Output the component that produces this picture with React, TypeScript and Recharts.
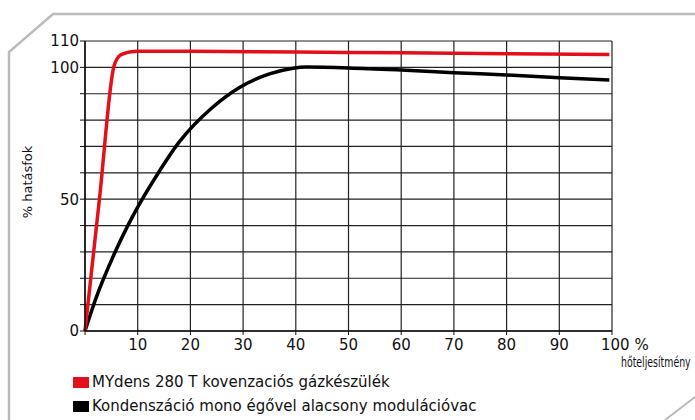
import React from 'react';
import { LineChart, Line, XAxis, YAxis, CartesianGrid } from 'recharts';

// red: MYdens 280 T (x = % heat load, y = % efficiency)
const redLoad = [0, 2.75, 5.5, 6.0, 6.6, 7.5, 8.5, 10, 20, 40, 60, 80, 99.5];
const redEff = [0, 50.2, 100.5, 103, 104.5, 105.3, 105.8, 106.1, 106.1, 105.8, 105.5, 105.2, 104.9];

// black: condensing with mono burner, low modulation
const blackLoad = [0, 2, 5.5, 8, 10, 13.6, 18, 24, 29.4, 35, 39.5, 42, 50, 60, 70, 80, 90, 99.5];
const blackEff = [0, 12, 29, 39.5, 47, 59, 72, 84.5, 92.5, 97.5, 99.7, 100.1, 99.8, 99, 98, 97.1, 96.1, 95.2];

const xTicks = [0, 10, 20, 30, 40, 50, 60, 70, 80, 90, 100];
const yTicks = [0, 10, 20, 30, 40, 50, 60, 70, 80, 90, 100, 110];
const yLabelled = [0, 50, 100, 110];

const seriesNames = ['MYdens 280 T kovenzaciós gázkészülék', 'Kondenszáció mono égővel alacsony modulációvac'];
const seriesColors = ['#e3101c', '#000'];

const redData = redLoad.map((x, i) => ({ x, y: redEff[i] }));
const blackData = blackLoad.map((x, i) => ({ x, y: blackEff[i] }));

const FONT = '"DejaVu Sans", Verdana, sans-serif';

const XTick = ({ x, y, payload }: any) => {
  const v = payload.value;
  if (v === 0) return null;
  if (v === 100) {
    return (
      <text x={x - 11} y={y + 13} fontSize={15} fontFamily={FONT} fill="#111" textAnchor="start">
        100 %
      </text>
    );
  }
  return (
    <text x={x} y={y + 13} fontSize={15} fontFamily={FONT} fill="#111" textAnchor="middle">
      {v}
    </text>
  );
};

export default function App() {
  return (
    <div style={{ position: 'fixed', left: 0, top: 0, width: 695, height: 420, background: '#fff' }}>
      <svg width={695} height={420} style={{ position: 'absolute', left: 0, top: 0 }}>
        <polyline points="9,420 9,52 53,14 695,14" fill="none" stroke="#bbb" strokeWidth={2.5} />
        <line x1={695} y1={397} x2={665} y2={420} stroke="#bbb" strokeWidth={2} />
        {/* narrow unit caption, squeezed horizontally like the original */}
        <text x={0} y={0} fontSize={14} fontFamily={FONT} fill="#111" transform="translate(621,367) scale(0.67,1)">
          hőteljesítmény
        </text>
        <text
          x={32}
          y={182}
          fontSize={13}
          fontFamily={FONT}
          fill="#111"
          textAnchor="middle"
          transform="rotate(-90 32 182)"
        >
          % hatásfok
        </text>
      </svg>
      <div style={{ position: 'absolute', left: 0, top: 0 }}>
        <LineChart width={695} height={420} margin={{ top: 41, right: 83, bottom: 0, left: 0 }}>
          <CartesianGrid stroke="#222" strokeWidth={1.2} horizontal vertical />
          <XAxis
            type="number"
            dataKey="x"
            domain={[0, 100]}
            ticks={xTicks}
            tick={<XTick />}
            tickSize={4}
            height={89}
            axisLine={{ stroke: '#111', strokeWidth: 1.5 }}
            tickLine={{ stroke: '#111' }}
            allowDuplicatedCategory={false}
          />
          <YAxis
            type="number"
            dataKey="y"
            domain={[0, 110]}
            ticks={yTicks}
            interval={0}
            width={85}
            tickSize={5}
            tickMargin={1}
            tickFormatter={(v: number) => (yLabelled.includes(v) ? String(v) : '')}
            tick={{ fontSize: 15, fontFamily: FONT, fill: '#111' }}
            axisLine={{ stroke: '#111', strokeWidth: 1.5 }}
            tickLine={{ stroke: '#111' }}
          />
          <Line
            data={blackData}
            dataKey="y"
            name={seriesNames[1]}
            type="monotone"
            stroke={seriesColors[1]}
            strokeWidth={3.5}
            dot={false}
            isAnimationActive={false}
          />
          <Line
            data={redData}
            dataKey="y"
            name={seriesNames[0]}
            type="monotone"
            stroke={seriesColors[0]}
            strokeWidth={3.5}
            dot={false}
            isAnimationActive={false}
          />
        </LineChart>
      </div>
      <div style={{ position: 'absolute', left: 73, top: 370, fontFamily: FONT, fontSize: 15, color: '#111' }}>
        {seriesNames.map((n, i) => (
          <div key={n} style={{ display: 'flex', alignItems: 'center', height: 24 }}>
            <span style={{ display: 'inline-block', width: 16, height: 11, background: seriesColors[i], marginRight: 3 }} />
            {n}
          </div>
        ))}
      </div>
    </div>
  );
}
